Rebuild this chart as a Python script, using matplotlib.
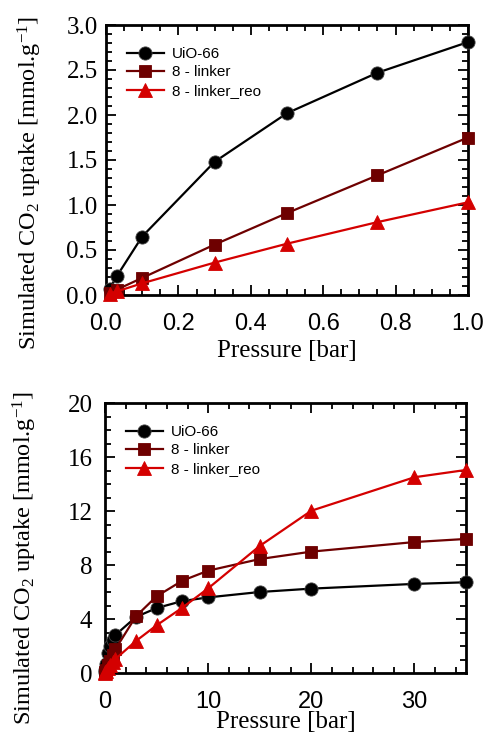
import matplotlib
matplotlib.use("Agg")
import matplotlib.pyplot as plt
from matplotlib.ticker import MultipleLocator, FormatStrFormatter

plt.rcParams['mathtext.fontset'] = 'custom'
plt.rcParams['mathtext.rm'] = 'Liberation Serif'
plt.rcParams['mathtext.it'] = 'Liberation Serif:italic'

# ---- data: low pressure ----
p_low = [0.01, 0.03, 0.1, 0.3, 0.5, 0.75, 1.0]
uio_low = [0.07, 0.21, 0.65, 1.48, 2.02, 2.47, 2.81]
l8_low = [0.02, 0.06, 0.19, 0.56, 0.91, 1.33, 1.75]
reo_low = [0.015, 0.04, 0.13, 0.36, 0.57, 0.81, 1.03]

# ---- data: high pressure ----
p_high = [0.01, 0.03, 0.1, 0.3, 0.5, 0.75, 1.0, 3, 5, 7.5, 10, 15, 20, 30, 35]
uio_high = [0.07, 0.21, 0.65, 1.48, 2.02, 2.47, 2.81, 4.15, 4.81, 5.33, 5.6, 6.0, 6.25, 6.6, 6.72]
l8_high = [0.02, 0.06, 0.19, 0.56, 0.91, 1.33, 1.75, 4.2, 5.68, 6.84, 7.58, 8.44, 8.99, 9.7, 9.93]
reo_high = [0.015, 0.04, 0.13, 0.36, 0.57, 0.81, 1.03, 2.37, 3.53, 4.84, 6.27, 9.41, 12.02, 14.5, 15.04]

labels = ['UiO-66', '8 - linker', '8 - linker_reo']
colors = ['#000000', '#6e0000', '#d40000']
markers = ['o', 's', '^']

xlabel = 'Pressure [bar]'
ylabel = r'Simulated CO$_2$ uptake [mmol.g$^{-1}$]'

W, H = 485, 734
fig = plt.figure(figsize=(W / 100, H / 100), dpi=100)

def px_axes(l, t, r, b):
    return fig.add_axes([l / W, 1 - b / H, (r - l) / W, (b - t) / H])

serif = 'Liberation Serif'
sans = 'Liberation Sans'

def style(ax, xmaj, xmin, ymaj, ymin, xfmt, yfmt, ypad):
    ax.xaxis.set_major_locator(MultipleLocator(xmaj))
    ax.xaxis.set_minor_locator(MultipleLocator(xmin))
    ax.yaxis.set_major_locator(MultipleLocator(ymaj))
    ax.yaxis.set_minor_locator(MultipleLocator(ymin))
    ax.xaxis.set_major_formatter(FormatStrFormatter(xfmt))
    ax.yaxis.set_major_formatter(FormatStrFormatter(yfmt))
    ax.tick_params(which='both', direction='in', top=True, right=True, width=1.3)
    ax.tick_params(which='major', length=7)
    ax.tick_params(which='minor', length=4)
    ax.tick_params(axis='x', pad=13, labelsize=17, labelfontfamily=sans)
    ax.tick_params(axis='y', pad=ypad, labelsize=18, labelfontfamily=serif)
    for s in ax.spines.values():
        s.set_linewidth(2)

def draw(ax, x, ys):
    for y, lab, c, m in zip(ys, labels, colors, markers):
        ax.plot(x, y, color=c, marker=m, markersize=9.5 if m != 's' else 9,
                markeredgecolor='#444444' if c == '#000000' else c,
                markeredgewidth=0.6, linewidth=1.6, label=lab, clip_on=False, zorder=3)
    ax.legend(loc='upper left', bbox_to_anchor=(0.02, 0.97), frameon=False,
              prop={'family': sans, 'size': 11}, handlelength=2.4,
              handletextpad=0.55, labelspacing=0.3)

ax1 = px_axes(106, 25, 468, 295)
draw(ax1, p_low, [uio_low, l8_low, reo_low])
ax1.set_xlim(0, 1.0)
ax1.set_ylim(0, 3.0)
style(ax1, 0.2, 0.05, 0.5, 0.1, '%.1f', '%.1f', 6)
ax1.set_xlabel(xlabel, fontfamily=serif, fontsize=18)
ax1.set_ylabel(ylabel, fontfamily=serif, fontsize=17.5)
ax1.xaxis.set_label_coords(0.5, -0.165)
ax1.yaxis.set_label_coords(-0.17, 0.415)

ax2 = px_axes(105, 403, 466, 673)
draw(ax2, p_high, [uio_high, l8_high, reo_high])
ax2.set_xlim(0, 35)
ax2.set_ylim(0, 20)
style(ax2, 10, 2, 4, 1, '%d', '%d', 9)
ax2.set_xlabel(xlabel, fontfamily=serif, fontsize=18)
ax2.set_ylabel(ylabel, fontfamily=serif, fontsize=17.5)
ax2.xaxis.set_label_coords(0.5, -0.142)
ax2.yaxis.set_label_coords(-0.182, 0.426)

fig.savefig('out.png', dpi=100)
